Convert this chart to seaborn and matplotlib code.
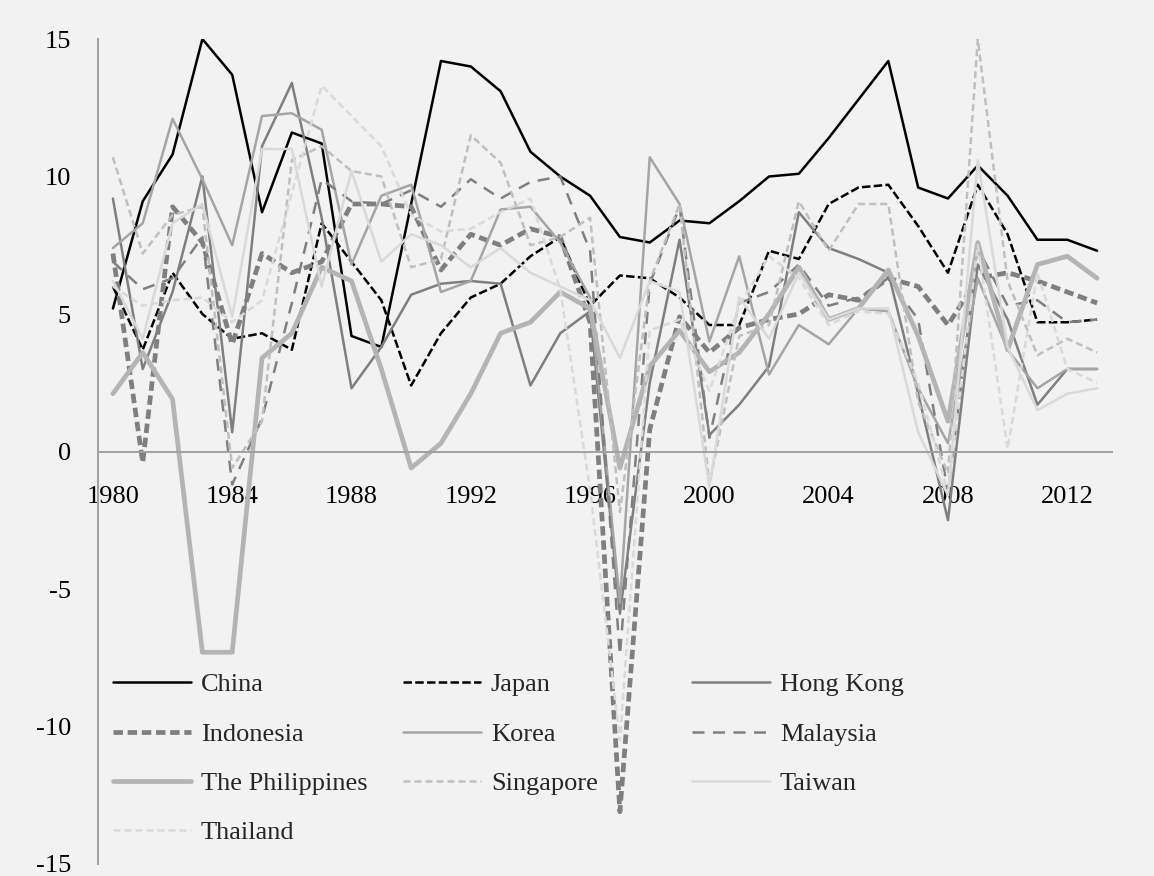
import numpy as np
import pandas as pd
import matplotlib
matplotlib.use("Agg")
import matplotlib.pyplot as plt
import matplotlib.ticker as mticker
import seaborn as sns

# ── Data (annual growth, %) ───────────────────────────────────
years = list(range(1980, 2014))

china = [5.2, 9.1, 10.8, 15.0, 13.7, 8.7, 11.6, 11.2, 4.2, 3.8,
         9.0, 14.2, 14.0, 13.1, 10.9, 10.0, 9.3, 7.8, 7.6, 8.4,
         8.3, 9.1, 10.0, 10.1, 11.4, 12.8, 14.2, 9.6, 9.2, 10.4,
         9.3, 7.7, 7.7, 7.3]
japan = [6.0, 3.7, 6.5, 5.0, 4.1, 4.3, 3.7, 8.3, 6.9, 5.5,
         2.4, 4.3, 5.6, 6.1, 7.1, 7.8, 5.3, 6.4, 6.3, 5.6,
         4.6, 4.6, 7.3, 7.0, 9.0, 9.6, 9.7, 8.2, 6.5, 9.7,
         7.9, 4.7, 4.7, 4.8]
hong_kong = [9.2, 3.0, 5.8, 10.0, 0.7, 11.1, 13.4, 8.5, 2.3, 3.8,
             5.7, 6.1, 6.2, 6.1, 2.4, 4.3, 5.1, -5.9, 2.5, 7.7,
             0.6, 1.7, 3.1, 8.7, 7.4, 7.0, 6.5, 2.1, -2.5, 6.8,
             4.8, 1.7, 3.0, 3.0]
indonesia = [7.2, -0.4, 8.9, 7.6, 3.9, 7.2, 6.5, 6.9, 9.0, 9.0,
             8.9, 6.6, 7.9, 7.5, 8.1, 7.8, 4.7, -13.1, 0.8, 4.9,
             3.6, 4.5, 4.8, 5.0, 5.7, 5.5, 6.3, 6.0, 4.6, 6.3,
             6.5, 6.2, 5.8, 5.4]
korea = [7.4, 8.3, 12.1, 9.9, 7.5, 12.2, 12.3, 11.7, 6.8, 9.3,
         9.7, 5.8, 6.2, 8.8, 8.9, 7.6, 5.6, -5.5, 10.7, 9.0,
         4.0, 7.1, 2.8, 4.6, 3.9, 5.2, 5.1, 2.3, 0.3, 6.3,
         3.7, 2.3, 3.0, 3.0]
malaysia = [6.9, 5.9, 6.3, 7.8, -1.2, 1.2, 5.4, 9.9, 9.1, 9.0,
            9.5, 8.9, 9.9, 9.2, 9.8, 10.0, 7.3, -7.4, 6.1, 8.9,
            0.5, 5.4, 5.8, 6.8, 5.3, 5.6, 6.3, 4.8, -1.5, 7.4,
            5.3, 5.5, 4.7, 4.8]
philippines = [2.1, 3.6, 1.9, -7.3, -7.3, 3.4, 4.3, 6.7, 6.2, 3.0,
               -0.6, 0.3, 2.1, 4.3, 4.7, 5.8, 5.2, -0.6, 3.1, 4.4,
               2.9, 3.6, 5.0, 6.7, 4.8, 5.2, 6.6, 4.2, 1.1, 7.6,
               3.7, 6.8, 7.1, 6.3]
singapore = [10.7, 7.2, 8.6, 8.9, -0.6, 1.1, 10.6, 11.1, 10.2, 10.0,
             6.7, 7.0, 11.5, 10.5, 7.5, 7.8, 8.5, -2.2, 6.2, 9.0,
             -1.2, 4.2, 4.6, 9.1, 7.3, 9.0, 9.0, 1.8, -0.8, 15.0,
             6.2, 3.5, 4.1, 3.6]
taiwan = [6.2, 4.1, 8.3, 9.0, 4.9, 11.0, 11.0, 6.0, 10.2, 6.9,
          7.9, 7.5, 6.7, 7.4, 6.5, 6.0, 5.5, 3.4, 6.2, 5.8,
          -1.3, 5.6, 4.1, 6.5, 4.8, 5.2, 5.2, 0.7, -1.6, 10.6,
          3.8, 1.5, 2.1, 2.3]
thailand = [6.0, 5.3, 5.5, 5.6, 4.7, 5.5, 9.4, 13.3, 12.2, 11.1,
            8.6, 8.0, 8.1, 8.7, 9.2, 5.9, -1.4, -10.5, 4.4, 4.8,
            2.2, 5.3, 7.1, 6.3, 4.6, 5.1, 5.0, 2.5, -1.5, 7.5,
            0.1, 6.5, 3.0, 2.5]

countries = ["China", "Japan", "Hong Kong", "Indonesia", "Korea", "Malaysia",
             "The Philippines", "Singapore", "Taiwan", "Thailand"]
series = [china, japan, hong_kong, indonesia, korea, malaysia,
          philippines, singapore, taiwan, thailand]

# ── Styles (colour, width, dash pattern) ──────────────────────
STYLES = {
    "China":           ("#000000", 1.8, "-"),
    "Japan":           ("#000000", 1.8, (0, (3.4, 1.3))),
    "Hong Kong":       ("#7f7f7f", 1.8, "-"),
    "Indonesia":       ("#7f7f7f", 3.4, (0, (2.0, 1.0))),
    "Korea":           ("#a5a5a5", 1.8, "-"),
    "Malaysia":        ("#7f7f7f", 1.8, (0, (4.8, 3.4))),
    "The Philippines": ("#b4b4b4", 3.4, "-"),
    "Singapore":       ("#bfbfbf", 1.8, (0, (2.8, 1.6))),
    "Taiwan":          ("#d9d9d9", 1.8, "-"),
    "Thailand":        ("#d9d9d9", 1.8, (0, (2.8, 1.6))),
}

# ── Setup ─────────────────────────────────────────────────────
BG = "#f2f2f2"
AXIS = "#a0a0a0"
FS = 19
sns.set_theme(style="white")
plt.rcParams.update({
    "font.family": ["Liberation Serif", "DejaVu Serif"],
    "axes.unicode_minus": False,
    "figure.facecolor": BG,
    "axes.facecolor": BG,
})

df = pd.DataFrame({"year": years})
for name, vals in zip(countries, series):
    df[name] = vals

fig = plt.figure(figsize=(11.54, 8.76), dpi=100)
ax = fig.add_axes([98 / 1154, 12 / 876, 1014 / 1154, 825 / 876])

for name in countries:
    color, lw, ls = STYLES[name]
    sns.lineplot(data=df, x="year", y=name, ax=ax, color=color,
                 linewidth=lw, linestyle=ls, label=name, legend=False)

# ── Axes ──────────────────────────────────────────────────────
ax.set_xlim(1979.5, 2013.5)
ax.set_ylim(-15, 15)
ax.set_xlabel("")
ax.set_ylabel("")

ax.spines["top"].set_visible(False)
ax.spines["right"].set_visible(False)
ax.spines["bottom"].set_position(("data", 0))
for s in ("left", "bottom"):
    ax.spines[s].set_color(AXIS)
    ax.spines[s].set_linewidth(1.4)

ax.xaxis.set_major_locator(mticker.FixedLocator(years[::4]))
ax.xaxis.set_minor_locator(mticker.FixedLocator([1979.5 + 4 * k for k in range(1, 9)]))
ax.yaxis.set_major_locator(mticker.MultipleLocator(5))
ax.yaxis.set_major_formatter(mticker.FuncFormatter(lambda v, _: f"{v:.0f}"))

ax.tick_params(axis="x", which="major", length=0, pad=25, labelsize=FS, colors="black")
ax.tick_params(axis="x", which="minor", length=6, width=1.4, direction="out", color=AXIS)
ax.tick_params(axis="y", which="major", length=6.5, width=1.4, direction="out",
               color=AXIS, labelcolor="black", pad=13, labelsize=FS)
ax.grid(False)

# ── Legend: three columns, filled row by row ──────────────────
handles = {l.get_label(): l for l in ax.get_lines()}
columns = [["China", "Indonesia", "The Philippines", "Thailand"],
           ["Japan", "Korea", "Singapore"],
           ["Hong Kong", "Malaysia", "Taiwan"]]
col_x = [113 / 1154, 403 / 1154, 692 / 1154]
for names, x0 in zip(columns, col_x):
    fig.legend([handles[n] for n in names], names, loc="upper left",
               bbox_to_anchor=(x0, (876 - 673) / 876), frameon=False,
               fontsize=FS, borderpad=0, borderaxespad=0, handlelength=2.95,
               handletextpad=0.38, labelspacing=0.98)

fig.savefig("out.png", dpi=100, facecolor=BG)
